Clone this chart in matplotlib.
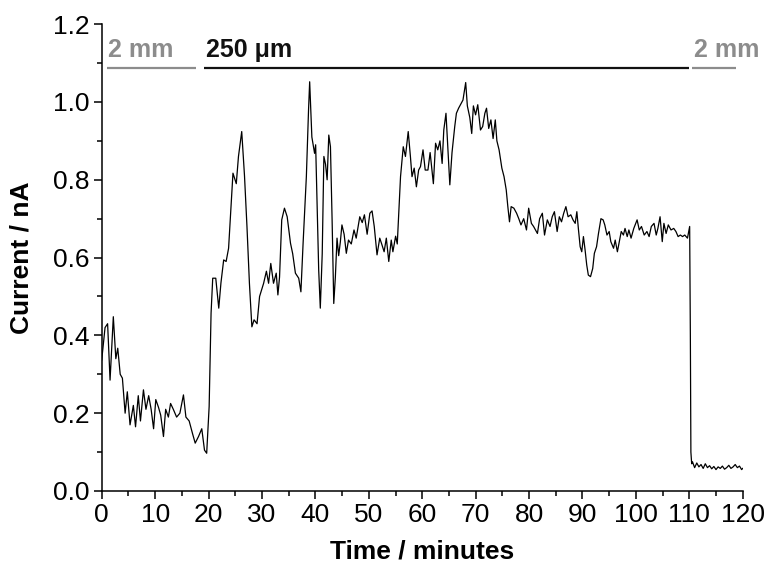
import matplotlib
matplotlib.use("Agg")
import matplotlib.pyplot as plt
from matplotlib.ticker import MultipleLocator

plt.rcParams['font.family'] = ['Liberation Sans', 'DejaVu Sans']

time_min = [
    0.00, 0.62, 1.10, 1.56, 2.17, 2.64, 3.00, 3.46, 3.87, 4.38, 4.79, 5.30, 5.92, 6.33,
    6.84, 7.25, 7.81, 8.28, 8.79, 9.25, 9.71, 10.12, 10.63, 11.04, 11.56, 11.97, 12.48,
    12.89, 13.40, 14.02, 14.63, 15.30, 15.76, 16.37, 16.99, 17.50, 18.12, 18.73, 19.24,
    19.65, 20.11, 20.47,
    20.78, 21.35, 21.91, 22.32, 22.83, 23.29, 23.75, 24.16, 24.57, 25.19, 25.60, 26.21,
    26.73, 27.19, 27.65, 28.11, 28.52, 29.08, 29.55, 30.31, 30.83, 31.24, 31.65, 32.16,
    32.67, 32.98, 33.29, 33.70, 34.21, 34.72, 35.34, 35.75, 36.26, 36.88, 37.29, 37.70,
    38.31, 38.72, 38.93, 39.34, 39.85, 40.05, 40.31, 40.62, 40.92, 41.28, 41.59, 41.90,
    42.20, 42.51, 42.82, 43.13, 43.44, 43.74, 44.05, 44.36, 44.67, 44.97, 45.38, 45.79,
    46.20, 46.72, 47.23, 47.64, 48.31, 48.77, 49.18, 49.69, 50.20, 50.61, 51.02, 51.54,
    52.05, 52.46, 52.87, 53.28, 53.74, 54.20, 54.51, 55.02, 55.33, 55.63, 55.94, 56.45,
    56.86, 57.38, 57.79, 58.09, 58.50, 58.91, 59.33, 59.68, 60.15, 60.56, 61.07, 61.48,
    62.09, 62.50, 62.91, 63.32, 63.73, 64.04, 64.45, 64.76, 65.17, 65.58, 66.09, 66.40,
    66.81, 67.32, 67.63, 68.14, 68.45, 68.91, 69.27, 69.58, 69.99, 70.40, 70.91, 71.32,
    71.73, 72.04, 72.45, 72.86, 73.27, 73.68, 73.98, 74.39, 74.91, 75.32, 75.73, 76.03,
    76.34, 76.65, 77.16, 77.67, 78.08, 78.49, 79.00, 79.52, 79.93, 80.44, 80.85, 81.57,
    81.98, 82.49, 82.90, 83.42, 83.93, 84.34, 84.75, 85.26, 85.67, 86.08, 86.49, 86.90,
    87.31, 87.82, 88.23, 88.64, 88.95, 89.26, 89.57, 89.87, 90.18, 90.49, 90.80, 91.10,
    91.51, 91.92, 92.23, 92.64, 93.00, 93.46, 93.87, 94.18, 94.59, 95.00, 95.31, 95.82,
    96.13, 96.54, 96.85, 97.26, 97.67, 97.97, 98.38, 98.69, 99.10, 99.61, 100.23, 100.64,
    101.05, 101.56, 102.07, 102.48, 102.89, 103.40, 103.81, 104.12, 104.53, 104.94,
    105.25, 105.66, 106.07, 106.58, 107.09, 107.50, 107.91, 108.33, 108.74, 109.15,
    109.66, 110.07, 110.20, 110.30, 110.45,
    110.6, 111.0, 111.4, 111.8, 112.2, 112.6, 113.0, 113.4, 113.8, 114.2, 114.6, 115.0,
    115.4, 115.8, 116.2, 116.6, 117.0, 117.4, 117.8, 118.2, 118.6, 119.0, 119.4, 119.8,
    120.0,
]

current_nA = [
    0.337, 0.420, 0.430, 0.285, 0.448, 0.340, 0.367, 0.300, 0.290, 0.200, 0.255, 0.170,
    0.220, 0.165, 0.245, 0.180, 0.260, 0.210, 0.245, 0.210, 0.160, 0.235, 0.215, 0.195,
    0.140, 0.210, 0.190, 0.225, 0.210, 0.190, 0.200, 0.247, 0.190, 0.180, 0.148, 0.123,
    0.140, 0.160, 0.105, 0.097, 0.217, 0.457,
    0.547, 0.547, 0.470, 0.535, 0.594, 0.590, 0.624, 0.722, 0.817, 0.790, 0.860, 0.924,
    0.810, 0.680, 0.534, 0.422, 0.440, 0.430, 0.500, 0.534, 0.565, 0.534, 0.585, 0.534,
    0.560, 0.504, 0.550, 0.697, 0.727, 0.705, 0.637, 0.610, 0.560, 0.547, 0.512, 0.637,
    0.808, 0.980, 1.052, 0.910, 0.868, 0.890, 0.740, 0.568, 0.470, 0.610, 0.860, 0.840,
    0.800, 0.915, 0.885, 0.697, 0.482, 0.550, 0.650, 0.605, 0.640, 0.684, 0.660, 0.611,
    0.645, 0.635, 0.671, 0.650, 0.705, 0.690, 0.710, 0.660, 0.714, 0.720, 0.680, 0.607,
    0.650, 0.633, 0.615, 0.650, 0.590, 0.645, 0.615, 0.655, 0.635, 0.722, 0.808, 0.885,
    0.860, 0.924, 0.860, 0.808, 0.830, 0.782, 0.825, 0.834, 0.877, 0.825, 0.825, 0.870,
    0.790, 0.894, 0.877, 0.900, 0.842, 0.928, 0.971, 0.894, 0.787, 0.870, 0.937, 0.971,
    0.984, 0.997, 1.005, 1.050, 0.990, 0.960, 0.919, 0.990, 0.967, 0.993, 0.928, 0.937,
    0.971, 0.984, 0.932, 0.954, 0.906, 0.954, 0.900, 0.877, 0.830, 0.808, 0.774, 0.731,
    0.692, 0.731, 0.727, 0.714, 0.700, 0.684, 0.700, 0.671, 0.727, 0.688, 0.680, 0.662,
    0.700, 0.714, 0.658, 0.697, 0.680, 0.705, 0.718, 0.667, 0.705, 0.692, 0.714, 0.731,
    0.705, 0.710, 0.697, 0.688, 0.718, 0.671, 0.628, 0.615, 0.654, 0.620, 0.581, 0.555,
    0.551, 0.572, 0.611, 0.628, 0.662, 0.700, 0.697, 0.684, 0.658, 0.667, 0.641, 0.624,
    0.645, 0.615, 0.637, 0.667, 0.658, 0.675, 0.654, 0.671, 0.650, 0.675, 0.697, 0.671,
    0.680, 0.658, 0.667, 0.654, 0.680, 0.688, 0.658, 0.675, 0.705, 0.641,
    0.688, 0.662, 0.684, 0.671, 0.675, 0.667, 0.654, 0.658, 0.654, 0.658,
    0.650, 0.680, 0.400, 0.100, 0.070,
    0.075, 0.060, 0.072, 0.062, 0.068, 0.058, 0.070, 0.060, 0.065, 0.057, 0.063, 0.055,
    0.062, 0.058, 0.064, 0.056, 0.060, 0.066, 0.058, 0.062, 0.068, 0.060, 0.064, 0.055,
    0.058,
]

# Electrode-size annotation bars: (start, end, label, colour)
bar_starts = [0.95, 19.2, 110.6]
bar_ends = [17.7, 110.0, 118.75]
bar_labels = ["2 mm", "250 \u03bcm", "2 mm"]
bar_colors = ["#8c8c8c", "#111111", "#8c8c8c"]
bar_level = 1.087
label_level = 1.103

fig = plt.figure(figsize=(7.73, 5.68), dpi=100)
ax = fig.add_axes([0.1316, 0.1356, 0.8292, 0.8218])

ax.plot(time_min, current_nA, color="black", linewidth=0.9)

for s, e, lab, c in zip(bar_starts, bar_ends, bar_labels, bar_colors):
    ax.plot([s, e], [bar_level, bar_level], color=c, linewidth=1.6, solid_capstyle="butt")
    ax.text(s + 0.3, label_level, lab, color=c, fontsize=18, fontweight="bold",
            ha="left", va="bottom")

ax.set_xlim(0, 120)
ax.set_ylim(0, 1.2)
ax.xaxis.set_major_locator(MultipleLocator(10))
ax.xaxis.set_minor_locator(MultipleLocator(5))
ax.yaxis.set_major_locator(MultipleLocator(0.2))
ax.yaxis.set_minor_locator(MultipleLocator(0.1))
ax.yaxis.set_major_formatter(matplotlib.ticker.FormatStrFormatter("%.1f"))

for side in ["top", "right"]:
    ax.spines[side].set_visible(False)
for side in ["left", "bottom"]:
    ax.spines[side].set_linewidth(1.1)

ax.tick_params(which="major", direction="out", length=6, width=1.1, labelsize=19, pad=3)
ax.tick_params(which="minor", direction="out", length=3.5, width=1.1)

ax.set_xlabel("Time / minutes", fontsize=19, fontweight="bold")
ax.set_ylabel("Current / nA", fontsize=19, fontweight="bold")
ax.xaxis.set_label_coords(0.5, -0.103)
ax.yaxis.set_label_coords(-0.106, 0.5)

fig.savefig("out.png", dpi=100)
